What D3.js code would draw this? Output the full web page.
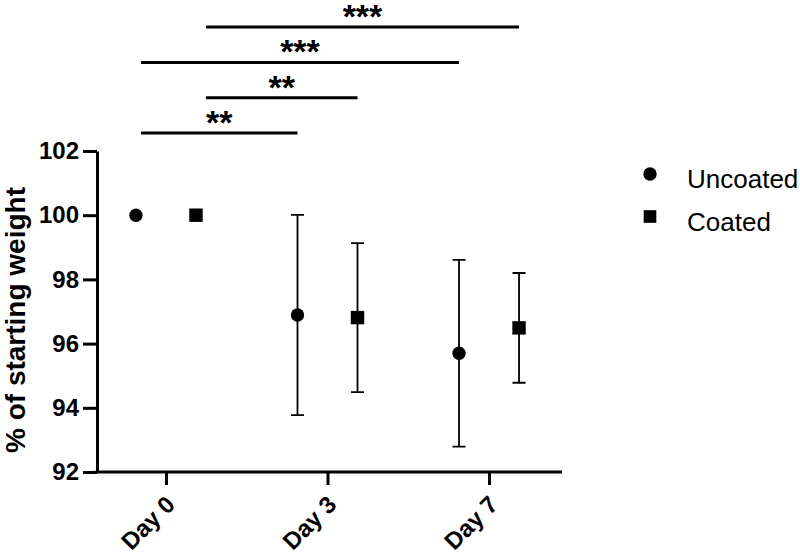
<!DOCTYPE html>
<html>
<head>
<meta charset="utf-8">
<script src="https://cdn.jsdelivr.net/npm/d3@7"></script>
<style>
  body { margin: 0; background: #fff; }
  svg { display: block; font-family: Arial, "Liberation Sans", Helvetica, sans-serif; }
</style>
</head>
<body>
<div id="chart"></div>
<script>
// data
const days = ["Day 0", "Day 3", "Day 7"];
const groups = ["Uncoated", "Coated"];
const uncoatedMean = [100, 96.89, 95.70];
const uncoatedErr = [0, 3.12, 2.91];
const coatedMean = [100, 96.81, 96.49];
const coatedErr = [0, 2.32, 1.71];
const yTicks = [92, 94, 96, 98, 100, 102];

// significance comparisons, bottom to top
const comparisons = [
    { from: ["Day 0", "Uncoated"], to: ["Day 3", "Uncoated"], label: "**" },
    { from: ["Day 0", "Coated"], to: ["Day 3", "Coated"], label: "**" },
    { from: ["Day 0", "Uncoated"], to: ["Day 7", "Uncoated"], label: "***" },
    { from: ["Day 0", "Coated"], to: ["Day 7", "Coated"], label: "***" }
];

const points = [];
days.forEach((d, i) => {
    points.push({ day: d, group: "Uncoated", mean: uncoatedMean[i], err: uncoatedErr[i] });
    points.push({ day: d, group: "Coated", mean: coatedMean[i], err: coatedErr[i] });
});

const svgWidth = 800;
const svgHeight = 557;
const margin = { top: 151, right: 238, bottom: 85, left: 97 };
const height = svgHeight - margin.top - margin.bottom;

const svg = d3.select("#chart")
    .append("svg")
    .attr("width", svgWidth)
    .attr("height", svgHeight);

// Scales
const xScale = d3.scalePoint()
    .domain(days)
    .range([margin.left, 558])
    .padding(0.427);

const offset = d3.scalePoint()
    .domain(groups)
    .range([-30, 30]);

const yScale = d3.scaleLinear()
    .domain([92, 102])
    .range([margin.top + height, margin.top]);

const xPos = (day, group) => xScale(day) + offset(group);

// Axes
const yAxis = svg.append("g")
    .attr("transform", `translate(${margin.left},0)`)
    .call(d3.axisLeft(yScale).tickValues(yTicks).tickSize(14).tickSizeOuter(0).tickPadding(4));

yAxis.select(".domain").attr("stroke-width", 3);
yAxis.selectAll(".tick line").attr("stroke-width", 3);
yAxis.selectAll(".tick text")
    .attr("font-size", "24px")
    .attr("font-weight", "bold")
    .attr("fill", "#000");

const xAxis = svg.append("g")
    .attr("transform", `translate(0,${yScale(92)})`)
    .call(d3.axisBottom(xScale).tickSize(13).tickSizeOuter(0));

xAxis.select(".domain").remove();
xAxis.append("line")
    .attr("x1", margin.left - 1.5)
    .attr("x2", 562)
    .attr("stroke", "#000")
    .attr("stroke-width", 3);
xAxis.selectAll(".tick line").attr("stroke-width", 3);
xAxis.selectAll(".tick text")
    .attr("font-size", "24px")
    .attr("font-weight", "bold")
    .attr("fill", "#000")
    .attr("text-anchor", "end")
    .attr("transform", "translate(4,28) rotate(-45)")
    .attr("dy", "0.35em")
    .attr("y", 0)
    .attr("x", 0);

// Error bars
const withErr = points.filter(p => p.err > 0);
const capW = 6.5;

svg.selectAll(".err")
    .data(withErr)
    .enter()
    .append("path")
    .attr("class", "err")
    .attr("fill", "none")
    .attr("stroke", "#000")
    .attr("stroke-width", 1.8)
    .attr("d", p => {
        const x = xPos(p.day, p.group);
        const y1 = yScale(p.mean + p.err);
        const y2 = yScale(p.mean - p.err);
        return `M${x - capW},${y1}H${x + capW}M${x},${y1}V${y2}M${x - capW},${y2}H${x + capW}`;
    });

// Markers
const symbolFor = g => g === "Uncoated" ? d3.symbolCircle : d3.symbolSquare;

svg.selectAll(".marker")
    .data(points)
    .enter()
    .append("path")
    .attr("class", "marker")
    .attr("transform", p => `translate(${xPos(p.day, p.group)},${yScale(p.mean)})`)
    .attr("d", p => d3.symbol().type(symbolFor(p.group)).size(p.group === "Uncoated" ? 140 : 180)())
    .attr("fill", "#000");

// Significance bars
const sigBase = yScale(102) - 18;
const sigStep = 35.3;
const startX = c => xPos(c.from[0], c.from[1]) + (c.from[1] === "Coated" ? 10 : 5);

const sig = svg.selectAll(".sig")
    .data(comparisons)
    .enter()
    .append("g")
    .attr("class", "sig");

sig.append("line")
    .attr("x1", startX)
    .attr("x2", c => xPos(c.to[0], c.to[1]))
    .attr("y1", (c, i) => sigBase - i * sigStep)
    .attr("y2", (c, i) => sigBase - i * sigStep)
    .attr("stroke", "#000")
    .attr("stroke-width", 3);

sig.append("text")
    .attr("x", c => (startX(c) + xPos(c.to[0], c.to[1])) / 2)
    .attr("y", (c, i) => sigBase - i * sigStep + 1)
    .attr("text-anchor", "middle")
    .attr("font-size", "34px")
    .attr("font-weight", "bold")
    .text(c => c.label);

// Y-axis label
svg.append("text")
    .attr("transform", "rotate(-90)")
    .attr("x", -320)
    .attr("y", 25)
    .attr("text-anchor", "middle")
    .attr("font-size", "28px")
    .attr("font-weight", "bold")
    .text("% of starting weight");

// Legend
const legend = svg.selectAll(".legend")
    .data(groups)
    .enter()
    .append("g")
    .attr("class", "legend")
    .attr("transform", (g, i) => `translate(650,${174 + i * 42.5})`);

legend.append("path")
    .attr("d", g => d3.symbol().type(symbolFor(g)).size(g === "Uncoated" ? 140 : 160)())
    .attr("fill", "#000");

legend.append("text")
    .attr("x", 37)
    .attr("y", 14)
    .attr("font-size", "26px")
    .text(g => g);
</script>
</body>
</html>
